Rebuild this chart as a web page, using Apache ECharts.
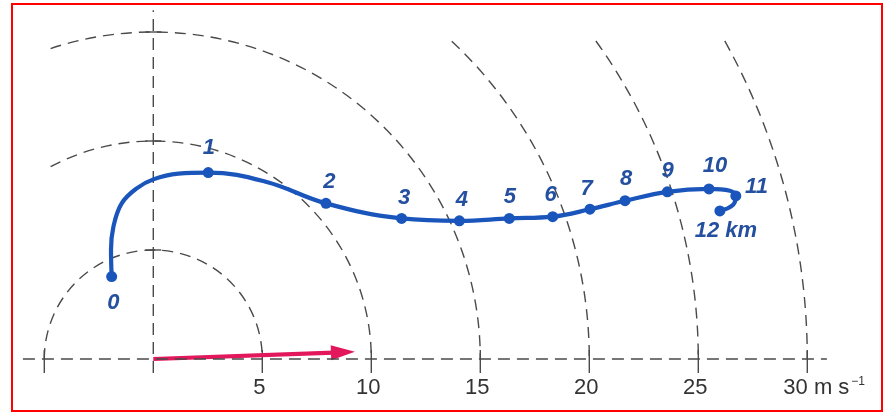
<!DOCTYPE html>
<html><head><meta charset="utf-8">
<script src="https://cdn.jsdelivr.net/npm/echarts@6/dist/echarts.min.js"></script>
<style>html,body{margin:0;padding:0;background:#fff}#c{width:889px;height:413px}</style>
</head><body><div id="c"></div>
<script>
// Hodograph: wind at each height (u, v in m/s)
const heightLabels = ['0','1','2','3','4','5','6','7','8','9','10','11','12 km'];
const windU = [-1.91, 2.52, 7.92, 11.39, 14.04, 16.33, 18.32, 20.03, 21.64, 23.58, 25.49, 26.72, 25.99];
const windV = [3.78, 8.55, 7.14, 6.45, 6.34, 6.45, 6.53, 6.87, 7.26, 7.67, 7.80, 7.48, 6.79];
// Curve trace (level points plus shape points between them)
const traceU = [-1.91, -1.94, -1.83, -1.45, -0.76, 0.0, 1.15, 2.52, 5.2, 7.92, 11.39, 14.04, 16.33, 18.32, 20.03, 21.64, 23.58, 25.49, 26.45, 26.72, 26.60, 25.99];
const traceV = [3.78, 5.0, 6.07, 7.14, 7.83, 8.24, 8.50, 8.55, 8.12, 7.14, 6.45, 6.34, 6.45, 6.53, 6.87, 7.26, 7.67, 7.80, 7.72, 7.48, 7.08, 6.79];
// Speed rings and axis tick labels
const ringSpeeds = [5, 10, 15, 20, 25, 30];
const tickValues = [5, 10, 15, 20, 25, 30];
const tickLabels = ['5', '10', '15', '20', '25', '30'];
const unitText = ' m s';
const unitSup = '\u22121';
// Storm motion vector (m/s)
const stormU = [9.25];
const stormV = [0.33];

// ---- layout / style configuration ----
const ringArcDeg = [180, 118.1, 108.3, 46.8, 35.7, 29.1];
const xAxisExtent = [-5.98, 30.9];
const yAxisExtent = [-0.64, 16.0];
const labelOffsets = [[1.6,26.6],[0.7,-24.7],[3.3,-21],[2.6,-20],[2.4,-20.7],[0.7,-21.6],[-2,-21.7],[-3.3,-20.3],[1,-21.4],[0.4,-21],[6,-23],[20.7,-9.3],[6,20]];
const GREY = '#4a4a4a', BLUE = '#1a55bc', LBLUE = '#24509f', RED = '#e3175b';
const FONT = '"Liberation Sans", Arial, sans-serif';
const DASH = [11, 7];

const chart = echarts.init(document.getElementById('c'), null, {renderer: 'canvas'});

const option = {
  animation: false,
  backgroundColor: '#fff',
  grid: {left: 0, right: 0, top: 0, bottom: 0},
  xAxis: {type: 'value', min: -7.032, max: 33.748, show: false},
  yAxis: {type: 'value', min: -2.477, max: 16.468, show: false},
  graphic: [{
    type: 'rect', shape: {x: 12, y: 4, width: 870, height: 407},
    style: {fill: 'none', stroke: '#ff0000', lineWidth: 2}, z: 100
  }],
  series: [
    { // speed rings
      type: 'custom', clip: false, silent: true,
      data: ringSpeeds.map((r, i) => [r, ringArcDeg[i]]),
      encode: {x: -1, y: -1},
      renderItem: (params, api) => {
        const r = api.value(0), deg = api.value(1);
        const c = api.coord([0, 0]);
        const e = api.coord([r, 0]);
        return {
          type: 'arc',
          shape: {cx: c[0], cy: c[1], r: e[0] - c[0], startAngle: -deg * Math.PI / 180, endAngle: 0, clockwise: true},
          style: {stroke: GREY, fill: 'none', lineWidth: 1.4, lineDash: DASH}
        };
      }
    },
    { // x axis
      type: 'line', silent: true, symbol: 'none',
      data: [[xAxisExtent[0], 0], [xAxisExtent[1], 0]],
      lineStyle: {color: GREY, width: 1.4, type: [12, 7]}
    },
    { // y axis
      type: 'line', silent: true, symbol: 'none',
      data: [[0, yAxisExtent[0]], [0, yAxisExtent[1]]],
      lineStyle: {color: GREY, width: 1.4, type: [12, 7]}
    },
    { // ticks on x axis
      type: 'custom', clip: false, silent: true,
      data: [-5].concat(ringSpeeds).map(v => [v, 0]),
      renderItem: (params, api) => {
        const p = api.coord([api.value(0), api.value(1)]);
        return {type: 'line', shape: {x1: p[0], y1: p[1] - 9, x2: p[0], y2: p[1] + 14},
          style: {stroke: GREY, lineWidth: 1.4}};
      }
    },
    { // ticks on y axis
      type: 'custom', clip: false, silent: true,
      data: [5, 10, 15].map(v => [0, v]),
      renderItem: (params, api) => {
        const p = api.coord([api.value(0), api.value(1)]);
        return {type: 'line', shape: {x1: p[0] - 8, y1: p[1], x2: p[0] + 8, y2: p[1]},
          style: {stroke: GREY, lineWidth: 1.4}};
      }
    },
    { // tick labels
      type: 'custom', clip: false, silent: true,
      data: tickValues.map((v, i) => [v, 0, i]),
      renderItem: (params, api) => {
        const i = api.value(2);
        const p = api.coord([api.value(0), 0]);
        const txt = tickLabels[i];
        const base = {fill: '#333', fontSize: 22, fontFamily: FONT, textVerticalAlign: 'middle'};
        if (i < tickLabels.length - 1) {
          return {type: 'text', x: p[0] - 3, y: p[1] + 29,
            style: Object.assign({text: txt, textAlign: 'center'}, base)};
        }
        const x0 = p[0] - 24;
        return {type: 'group', children: [
          {type: 'text', x: x0, y: p[1] + 29, style: Object.assign({text: txt + unitText, textAlign: 'left'}, base)},
          {type: 'text', x: x0 + 68, y: p[1] + 23, style: {text: unitSup, textAlign: 'left', textVerticalAlign: 'middle', fill: '#333', fontSize: 12, fontFamily: FONT}}
        ]};
      }
    },
    { // storm motion arrow
      type: 'custom', clip: false, silent: true,
      data: stormU.map((u, i) => [u, stormV[i]]),
      renderItem: (params, api) => {
        const o = api.coord([0, 0]);
        const t = api.coord([api.value(0), api.value(1)]);
        const dx = t[0] - o[0], dy = t[1] - o[1];
        const L = Math.hypot(dx, dy), ux = dx / L, uy = dy / L;
        const hl = 24, hw = 7.5;
        const bx = t[0] - ux * hl, by = t[1] - uy * hl;
        return {type: 'group', children: [
          {type: 'line', shape: {x1: o[0], y1: o[1], x2: bx + ux * 3, y2: by + uy * 3}, style: {stroke: RED, lineWidth: 4.2}},
          {type: 'polygon', shape: {points: [[t[0], t[1]], [bx - uy * hw, by + ux * hw], [bx + uy * hw, by - ux * hw]]}, style: {fill: RED}}
        ]};
      }
    },
    { // hodograph curve
      type: 'line', silent: true, symbol: 'none', smooth: 0.4,
      data: traceU.map((u, i) => [u, traceV[i]]),
      lineStyle: {color: BLUE, width: 4.2, cap: 'round', join: 'round'}
    },
    { // level points
      type: 'scatter', silent: true, symbol: 'circle', symbolSize: 11,
      itemStyle: {color: BLUE, opacity: 1},
      data: windU.map((u, i) => ({
        value: [u, windV[i]],
        label: {offset: labelOffsets[i]}
      })),
      label: {
        show: true, position: 'inside', align: 'center', verticalAlign: 'middle', opacity: 1,
        formatter: p => heightLabels[p.dataIndex],
        color: LBLUE, fontSize: 22, fontStyle: 'italic', fontWeight: 'bold', fontFamily: FONT
      }
    }
  ]
};
chart.setOption(option);
</script>
</body></html>
